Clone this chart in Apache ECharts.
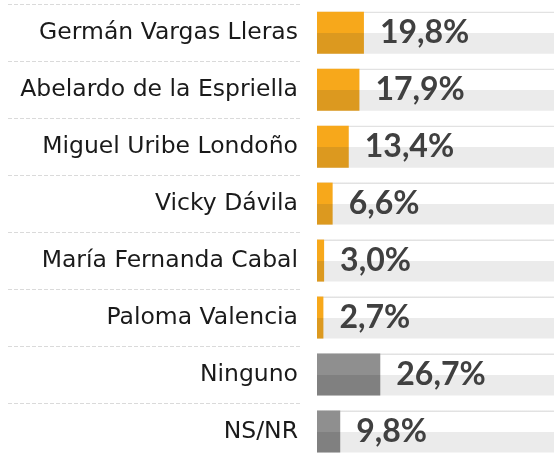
<!DOCTYPE html>
<html>
<head>
<meta charset="utf-8">
<script src="https://cdn.jsdelivr.net/npm/echarts@6/dist/echarts.min.js"></script>
<style>
  html, body { margin: 0; padding: 0; background: #fff; }
  #main { width: 554px; height: 460px; }
</style>
</head>
<body>
<div id="main"></div>
<script>
// candidatos y porcentajes
const candidatos = ['Germán Vargas Lleras', 'Abelardo de la Espriella', 'Miguel Uribe Londoño',
  'Vicky Dávila', 'María Fernanda Cabal', 'Paloma Valencia', 'Ninguno', 'NS/NR'];
const porcentajes = [19.8, 17.9, 13.4, 6.6, 3.0, 2.7, 26.7, 9.8];
const esOpcion = [false, false, false, false, false, false, true, true]; // barras grises

let chart = echarts.init(document.getElementById('main'));

function dosTonos(arriba, abajo) { // mitad de arriba clara, mitad de abajo oscura
  return {
    type: 'linear', x: 0, y: 0, x2: 0, y2: 1,
    colorStops: [
      { offset: 0, color: arriba }, { offset: 0.5, color: arriba },
      { offset: 0.5, color: abajo }, { offset: 1, color: abajo }
    ]
  };
}

const naranja = dosTonos('#F7A81B', '#DC991F');
const gris = dosTonos('#8F8F8F', '#808080');
const fondo = {
  type: 'linear', x: 0, y: 0, x2: 0, y2: 1,
  colorStops: [
    { offset: 0, color: '#E2E2E2' }, { offset: 0.03, color: '#E2E2E2' },
    { offset: 0.03, color: '#FFFFFF' }, { offset: 0.5, color: '#FFFFFF' },
    { offset: 0.5, color: '#EBEBEB' }, { offset: 1, color: '#EBEBEB' }
  ]
};

let option = {
  backgroundColor: '#fff',
  animation: false,
  grid: [
    { left: 317, top: 4.2, width: 248, height: 461.6 }, // barras
    { left: 8, top: 4.2, width: 293, height: 461.6 }    // lineas punteadas
  ],
  xAxis: [
    { type: 'value', min: 0, max: 100, show: false, gridIndex: 0 },
    { type: 'value', min: 0, max: 1, show: false, gridIndex: 1 }
  ],
  yAxis: [
    {
      type: 'category', data: candidatos, inverse: true, gridIndex: 0,
      axisLine: { show: false }, axisTick: { show: false }, splitLine: { show: false },
      axisLabel: { margin: 19, color: '#1A1A1A', fontSize: 23.5, fontFamily: 'DejaVu Sans',
        padding: [3, 0, 0, 0] }
    },
    {
      type: 'category', data: candidatos, inverse: true, gridIndex: 1,
      axisLine: { show: false }, axisTick: { show: false }, axisLabel: { show: false },
      splitLine: { show: true, showMinLine: true, showMaxLine: true,
        lineStyle: { color: '#DADADA', type: [4, 2], width: 1 } }
    }
  ],
  series: [{
    type: 'bar',
    barWidth: 42,
    showBackground: true,
    backgroundStyle: { color: fondo },
    data: porcentajes.map((v, i) => ({
      value: v,
      itemStyle: { color: esOpcion[i] ? gris : naranja }
    })),
    label: {
      show: true,
      position: 'right',
      distance: 16,
      color: '#404040',
      fontFamily: 'Lato',
      fontWeight: 'bold',
      fontSize: 32,
      padding: [4, 0, 0, 0],
      formatter: p => p.value.toFixed(1).replace('.', ',') + '%'
    }
  }]
};

chart.setOption(option);
</script>
</body>
</html>
